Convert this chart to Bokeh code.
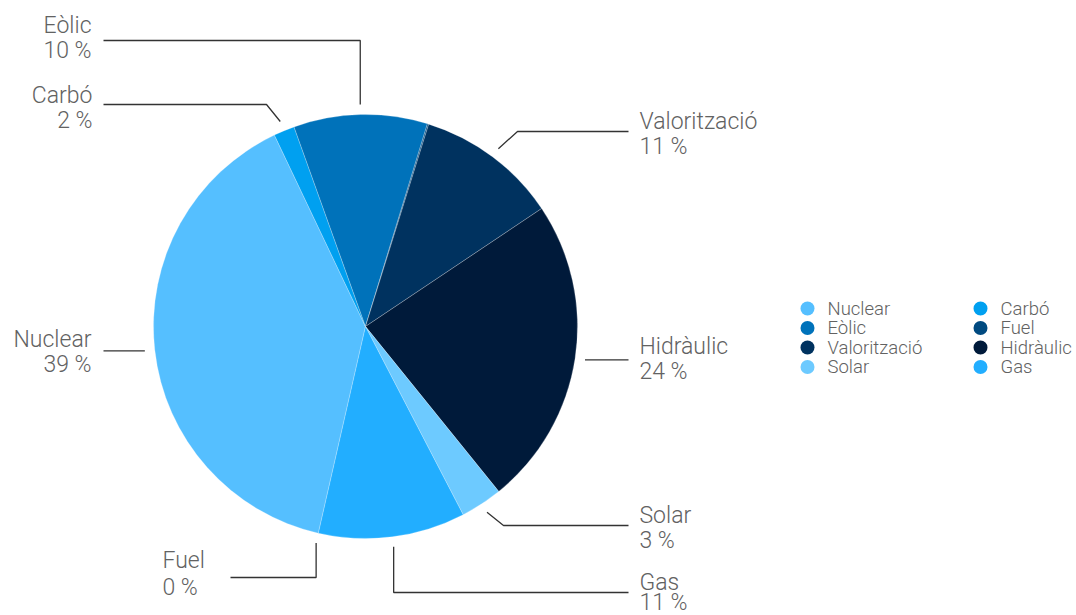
import math
from bokeh.plotting import figure
from bokeh.models import Range1d, ColumnDataSource
from bokeh.core.properties import value
from bokeh.embed import file_html
from bokeh.resources import INLINE

# ---- data ----
categories = ["Nuclear", "Carbó", "Eòlic", "Fuel", "Valorització", "Hidràulic", "Solar", "Gas"]
shares = [39.4, 1.6, 10.2, 0.1, 10.8, 23.6, 3.2, 11.2]
colors = ["#55BFFF", "#00A0F0", "#0072BA", "#004A80", "#00325F", "#001A3A", "#6DCAFF", "#22AEFF"]

# ---- layout ----
W, H = 1076, 615
def Y(sy):  # screen y -> data y
    return H - sy

CX, CY, R = 365, Y(326), 212
START = 192.85  # degrees clockwise from north
FONT = value("Roboto Light")
TXT = "#626262"

p = figure(width=W, height=H, x_range=Range1d(0, W), y_range=Range1d(0, H),
           output_backend="svg", toolbar_location=None, min_border=0)
p.axis.visible = False
p.grid.visible = False
p.outline_line_color = None
p.border_fill_color = "white"

total = sum(shares)
starts, ends, mids = [], [], []
acc = START
for v in shares:
    a0 = acc
    a1 = acc + v / total * 360.0
    starts.append(math.radians(90 - a0))
    ends.append(math.radians(90 - a1))
    mids.append((a0 + a1) / 2)
    acc = a1

src = ColumnDataSource(dict(start=starts, end=ends, color=colors, cat=categories))
p.wedge(x=CX, y=CY, radius=R, start_angle="start", end_angle="end", direction="clock",
        fill_color="color", line_color="white", line_width=0.4, line_alpha=0.6, source=src)

# label layout: (text x, name screen y, pct screen y, align, line y, line x start, elbow mode, elbow x)
layout = {
    "Nuclear":      (91, 339, 364, "right", None, 103, "h", None),
    "Carbó":        (92, 95, 120, "right", 104, 103, "d", 266),
    "Eòlic":        (91, 25, 50, "right", 40, 103, "v", None),
    "Fuel":         (162, 560, 587, "left", 577, 230, "v", None),
    "Valorització": (639, 121, 146, "left", 131, 628, "d", 517),
    "Hidràulic":    (639, 346, 371, "left", None, 628, "h", None),
    "Solar":        (639, 515, 540, "left", 525, 628, "d", 503),
    "Gas":          (639, 582, 602, "left", 592, 628, "v", None),
}
anchor_angle = dict(zip(categories, mids))
anchor_angle["Fuel"] = START  # label points to the pie's start edge
RA = 222

for cat, v in zip(categories, shares):
    tx, ny, py, align, ly, lx0, mode, ex = layout[cat]
    th = math.radians(anchor_angle[cat])
    ax = CX + RA * math.sin(th)
    ay = CY + RA * math.cos(th)
    if mode == "h":
        xs, ys = [lx0, ax], [ay, ay]
    elif mode == "v":
        xs, ys = [lx0, ax, ax], [Y(ly), Y(ly), ay]
    else:
        xs, ys = [lx0, ex, ax], [Y(ly), Y(ly), ay]
    p.line(xs, ys, line_color="#333333", line_width=1.3)
    p.text(x=[tx, tx], y=[Y(ny), Y(py)], text=[cat, f"{round(v)} %"], text_align=align,
           text_baseline="middle", text_font=FONT, text_font_size="23px", text_color=TXT)

# legend (2 columns, row-major)
lx = [807, 980]
lty = [308, 327.5, 347, 366.5]
for i, (cat, col) in enumerate(zip(categories, colors)):
    c, r = i % 2, i // 2
    p.scatter(x=[lx[c]], y=[Y(lty[r])], size=14, marker="circle", fill_color=col, line_color=None)
    p.text(x=[lx[c] + 20], y=[Y(lty[r])], text=[cat], text_align="left", text_baseline="middle",
           text_font=FONT, text_font_size="18.5px", text_color=TXT)

open("out.html", "w").write(file_html(p, INLINE))
